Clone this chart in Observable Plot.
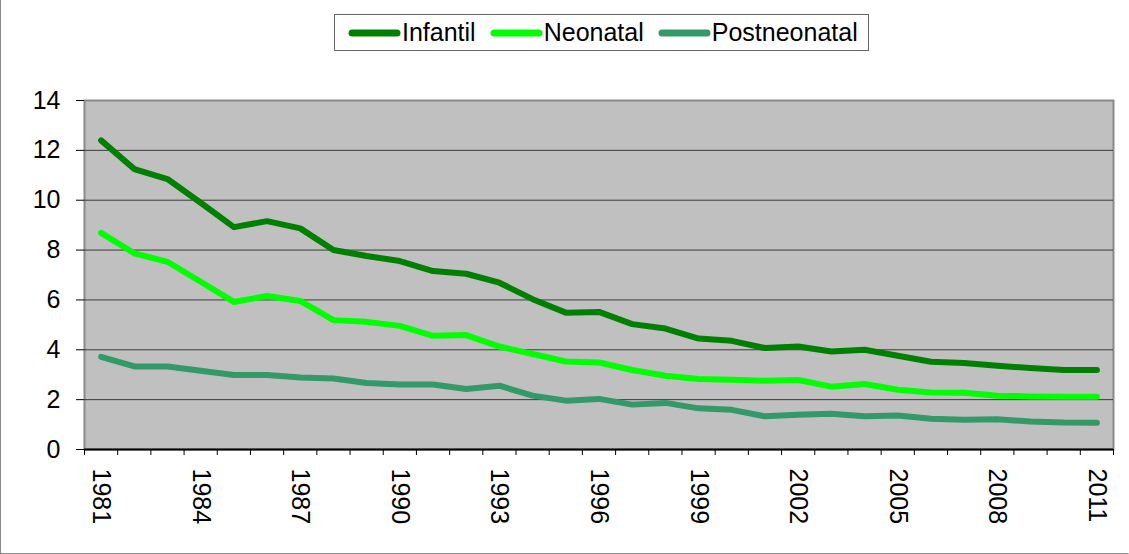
<!DOCTYPE html>
<html>
<head>
<meta charset="utf-8">
<script src="https://cdn.jsdelivr.net/npm/d3@7"></script>
<script src="https://cdn.jsdelivr.net/npm/@observablehq/plot@0.6"></script>
<style>
  html, body { margin: 0; padding: 0; background: #fff; }
  #chart { position: relative; width: 1129px; height: 554px; box-sizing: border-box; border: 1px solid #8c8c8c; border-top: none; border-right-color: #fff; font-family: "Liberation Sans", Arial, sans-serif; }
  #legend { position: relative; height: 61px; }
  #legend .box { position: absolute; left: 333px; top: 14px; box-sizing: border-box; height: 37px; border: 1px solid #666; padding: 0 10px 0 13px; display: flex; align-items: center; font-size: 25px; color: #000; white-space: nowrap; }
  #legend .item { display: flex; align-items: center; margin-right: 14px; }
  #legend .item:last-child { margin-right: 0; }
  #legend svg { margin-right: 1px; }
  #plot svg { display: block; }
</style>
</head>
<body>
<div id="chart">
  <div id="legend"></div>
  <div id="plot"></div>
</div>
<script>
const years = [1981,1982,1983,1984,1985,1986,1987,1988,1989,1990,1991,1992,1993,1994,1995,1996,1997,1998,1999,2000,2001,2002,2003,2004,2005,2006,2007,2008,2009,2010,2011];
const infantil = [12.4,11.25,10.85,9.9,8.92,9.16,8.87,8.0,7.76,7.56,7.16,7.05,6.69,6.03,5.49,5.52,5.03,4.85,4.45,4.36,4.07,4.13,3.93,4.0,3.76,3.52,3.47,3.36,3.27,3.19,3.19];
const neonatal = [8.69,7.87,7.53,6.73,5.92,6.16,5.96,5.19,5.12,4.96,4.56,4.59,4.13,3.83,3.53,3.49,3.19,2.96,2.83,2.8,2.76,2.79,2.52,2.63,2.4,2.29,2.28,2.16,2.13,2.12,2.12];
const postneonatal = [3.72,3.33,3.33,3.16,2.99,2.99,2.89,2.85,2.67,2.61,2.61,2.43,2.56,2.16,1.96,2.03,1.8,1.87,1.65,1.59,1.33,1.39,1.43,1.33,1.36,1.23,1.19,1.21,1.12,1.08,1.07];
const seriesNames = ["Infantil", "Neonatal", "Postneonatal"];
const seriesColors = ["#008000", "#00ff00", "#339966"];
const yTicks = [0,2,4,6,8,10,12,14];
const xLabelYears = [1981,1984,1987,1990,1993,1996,1999,2002,2005,2008,2011];

const seriesValues = [infantil, neonatal, postneonatal];
const data = seriesNames.flatMap((name, i) => years.map((year, j) => ({series: name, year, value: seriesValues[i][j]})));
const boundaries = years.map(y => y - 0.5).concat([years[years.length - 1] + 0.5]);

// Legend
const legend = document.getElementById("legend");
const box = document.createElement("div");
box.className = "box";
seriesNames.forEach((name, i) => {
  const item = document.createElement("div");
  item.className = "item";
  item.innerHTML = `<svg width="53" height="10"><line x1="4" y1="5" x2="49" y2="5" stroke="${seriesColors[i]}" stroke-width="7" stroke-linecap="round"/></svg><span>${name}</span>`;
  box.appendChild(item);
});
legend.appendChild(box);

const chart = Plot.plot({
  width: 1127,
  height: 492,
  marginTop: 39,
  marginBottom: 104,
  marginLeft: 83,
  marginRight: 15,
  style: {fontFamily: "Liberation Sans, Arial, sans-serif", fontSize: "25px", color: "#000", background: "transparent"},
  x: {type: "linear", domain: [boundaries[0], boundaries[boundaries.length - 1]]},
  y: {domain: [0, 14]},
  color: {domain: seriesNames, range: seriesColors},
  marks: [
    Plot.frame({fill: "#c0c0c0", stroke: "#8a8a8a", strokeWidth: 2}),
    Plot.gridY(yTicks.filter(d => d > 0 && d < 14), {stroke: "#3a3a3a", strokeOpacity: 1, strokeWidth: 1}),
    Plot.lineY(data, {x: "year", y: "value", z: "series", stroke: "series", strokeWidth: 6, strokeLinecap: "round", strokeLinejoin: "round"}),
    Plot.ruleY([0], {stroke: "#000", strokeWidth: 2}),
    Plot.axisY({ticks: yTicks, tickSize: 8, tickPadding: 16, line: true, label: null, stroke: "#000", fontSize: 25}),
    Plot.axisX({ticks: boundaries, tickSize: 6, tickFormat: () => "", label: null}),
    Plot.text(xLabelYears, {x: d => d, text: d => String(d), frameAnchor: "bottom", dy: 19, rotate: 90, textAnchor: "start", lineAnchor: "middle", fontSize: 25, fill: "#000"})
  ]
});
document.getElementById("plot").appendChild(chart);
</script>
</body>
</html>
